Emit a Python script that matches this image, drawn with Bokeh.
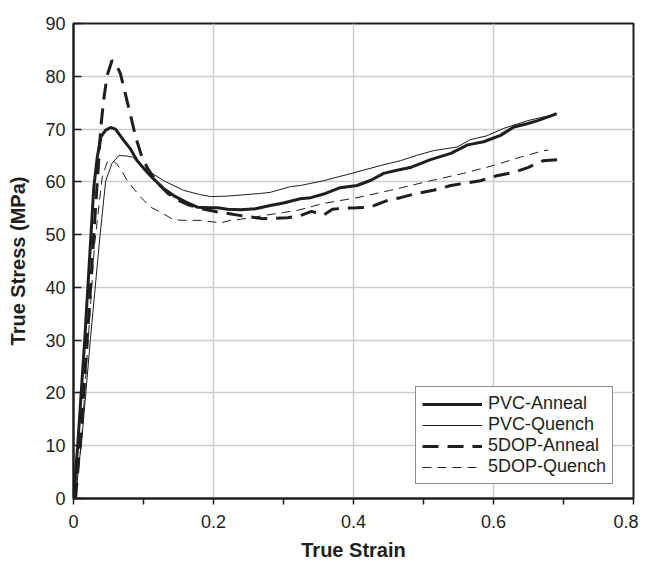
from bokeh.plotting import figure
from bokeh.models import FixedTicker, Range1d, Legend, LegendItem
from bokeh.embed import file_html
from bokeh.resources import INLINE

# ---- data ----
pvc_anneal_strain = [0, 0.006, 0.016, 0.025, 0.029, 0.034, 0.039, 0.046, 0.053, 0.06, 0.072, 0.081, 0.091,
                     0.102, 0.114, 0.128, 0.143, 0.16, 0.177, 0.195, 0.206, 0.22, 0.239, 0.26, 0.281, 0.3,
                     0.324, 0.339, 0.36, 0.381, 0.405, 0.425, 0.443, 0.462, 0.481, 0.51, 0.539, 0.563,
                     0.586, 0.61, 0.629, 0.648, 0.663, 0.684, 0.69]
pvc_anneal_stress = [0, 10, 30, 50, 59, 64.7, 68.5, 69.8, 70.3, 70, 67.8, 66.3, 64, 62.3, 60.6, 58.8, 57.4,
                     56.2, 55.2, 55.1, 55.1, 54.8, 54.7, 54.9, 55.5, 56, 56.8, 57, 57.8, 58.9, 59.3, 60.3,
                     61.6, 62.2, 62.7, 64.2, 65.4, 67, 67.6, 68.8, 70.4, 71, 71.6, 72.6, 72.9]

pvc_quench_strain = [0, 0.011, 0.024, 0.038, 0.046, 0.055, 0.065, 0.075, 0.084, 0.095, 0.11, 0.129, 0.157,
                     0.18, 0.196, 0.22, 0.239, 0.267, 0.281, 0.31, 0.324, 0.357, 0.4, 0.439, 0.467, 0.49,
                     0.514, 0.548, 0.567, 0.59, 0.614, 0.649, 0.691]
pvc_quench_stress = [0, 9.7, 30, 50, 60.2, 63.5, 65, 64.9, 64.7, 63.4, 61.8, 60.2, 58.4, 57.6, 57.2, 57.3,
                     57.5, 57.8, 58, 59.1, 59.3, 60.2, 61.7, 63.1, 64, 65, 65.9, 66.6, 68, 68.7, 70.1,
                     71.6, 72.9]

dop_anneal_strain = [0.003, 0.012, 0.022, 0.03, 0.035, 0.039, 0.043, 0.048, 0.055, 0.06, 0.067, 0.074,
                     0.081, 0.089, 0.098, 0.107, 0.12, 0.135, 0.15, 0.165, 0.18, 0.206, 0.239, 0.271,
                     0.306, 0.324, 0.34, 0.357, 0.37, 0.385, 0.405, 0.424, 0.449, 0.467, 0.49, 0.514,
                     0.539, 0.557, 0.581, 0.603, 0.629, 0.649, 0.671, 0.693]
dop_anneal_stress = [0, 15, 35, 52, 62, 70.3, 75.4, 80.1, 83, 82.5, 80.5, 76.7, 72.9, 68.4, 64.6, 62.3,
                     59.8, 57.8, 56.5, 55.6, 55, 54.3, 53.6, 53, 53.2, 53.6, 54.4, 53.7, 54.8, 55, 55.1,
                     55.2, 56.5, 57, 57.8, 58.4, 59.3, 59.7, 60.2, 61.1, 61.8, 62.7, 64, 64.2]

dop_quench_strain = [0.003, 0.012, 0.022, 0.03, 0.041, 0.048, 0.055, 0.062, 0.07, 0.077, 0.086, 0.096,
                     0.11, 0.124, 0.143, 0.16, 0.181, 0.2, 0.21, 0.224, 0.25, 0.271, 0.3, 0.32, 0.357,
                     0.405, 0.453, 0.51, 0.557, 0.6, 0.639, 0.671, 0.678]
dop_quench_stress = [0, 12, 32, 48, 60.9, 63.7, 64.1, 63.4, 61.8, 60.2, 58.7, 57.1, 55.2, 54.3, 52.8,
                     52.7, 52.7, 52.4, 52.2, 52.7, 53.1, 53.6, 54.2, 54.6, 55.9, 57, 58.4, 60.2, 61.6,
                     63.1, 64.7, 65.9, 66]

series_names = ["PVC-Anneal", "PVC-Quench", "5DOP-Anneal", "5DOP-Quench"]

x_tick_values = [0, 0.2, 0.4, 0.6, 0.8]
x_tick_labels = ["0", "0.2", "0.4", "0.6", "0.8"]
x_minor_ticks = [0.1, 0.3, 0.5, 0.7]
y_tick_values = [0, 10, 20, 30, 40, 50, 60, 70, 80, 90]

FONT = "Liberation Sans"
INK = "#1e1e1e"

p = figure(frame_width=560, frame_height=475,
           x_range=Range1d(0, 0.8), y_range=Range1d(0, 90),
           output_backend="svg", toolbar_location=None,
           min_border_left=73, min_border_right=5, min_border_top=23, min_border_bottom=58,
           background_fill_color="white", border_fill_color="white")

p.outline_line_color = INK
p.outline_line_width = 2

# grids
p.xgrid.ticker = FixedTicker(ticks=x_tick_values)
p.ygrid.ticker = FixedTicker(ticks=y_tick_values)
for g in (p.xgrid[0], p.ygrid[0]):
    g.grid_line_color = "#cccccc"
    g.grid_line_width = 1.5

# x axis
xa = p.xaxis[0]
xa.ticker = FixedTicker(ticks=x_tick_values, minor_ticks=x_minor_ticks)
xa.major_label_overrides = {v: l for v, l in zip(x_tick_values, x_tick_labels)}
xa.axis_label = "True Strain"
xa.major_tick_in = 0
xa.major_tick_out = 6
xa.minor_tick_in = 0
xa.minor_tick_out = 6

# y axis
ya = p.yaxis[0]
ya.ticker = FixedTicker(ticks=y_tick_values)
ya.axis_label = "True Stress (MPa)"
ya.major_tick_in = 8
ya.major_tick_out = 0

for ax in (xa, ya):
    ax.axis_line_color = INK
    ax.axis_line_width = 2
    ax.major_tick_line_color = INK
    ax.major_tick_line_width = 1.5
    ax.minor_tick_line_color = INK if ax is xa else None
    ax.minor_tick_line_width = 1.5
    ax.major_label_text_font = FONT
    ax.major_label_text_font_size = "18px"
    ax.major_label_text_color = INK
    ax.axis_label_text_font = FONT
    ax.axis_label_text_font_size = "20px"
    ax.axis_label_text_font_style = "bold"
    ax.axis_label_text_color = INK

xa.major_label_standoff = 10
xa.axis_label_standoff = 8
ya.major_label_standoff = 8
ya.axis_label_standoff = 13

# lines
r1 = p.line(pvc_anneal_strain, pvc_anneal_stress, line_color=INK, line_width=3)
r2 = p.line(pvc_quench_strain, pvc_quench_stress, line_color=INK, line_width=1)
r3 = p.line(dop_anneal_strain, dop_anneal_stress, line_color=INK, line_width=3, line_dash="16 9")
r4 = p.line(dop_quench_strain, dop_quench_stress, line_color=INK, line_width=1, line_dash="9 6")

legend = Legend(items=[LegendItem(label=n, renderers=[r]) for n, r in zip(series_names, [r1, r2, r3, r4])],
                location=(342, 14))
legend.border_line_color = INK
legend.border_line_width = 1.5
legend.background_fill_color = "white"
legend.background_fill_alpha = 1
legend.label_text_font = FONT
legend.label_text_font_size = "18px"
legend.label_text_color = INK
legend.glyph_width = 60
legend.glyph_height = 20
legend.label_height = 20
legend.label_standoff = 6
legend.spacing = 0
legend.padding = 6
legend.margin = 0
p.add_layout(legend, "center")

open("out.html", "w").write(file_html(p, INLINE))
